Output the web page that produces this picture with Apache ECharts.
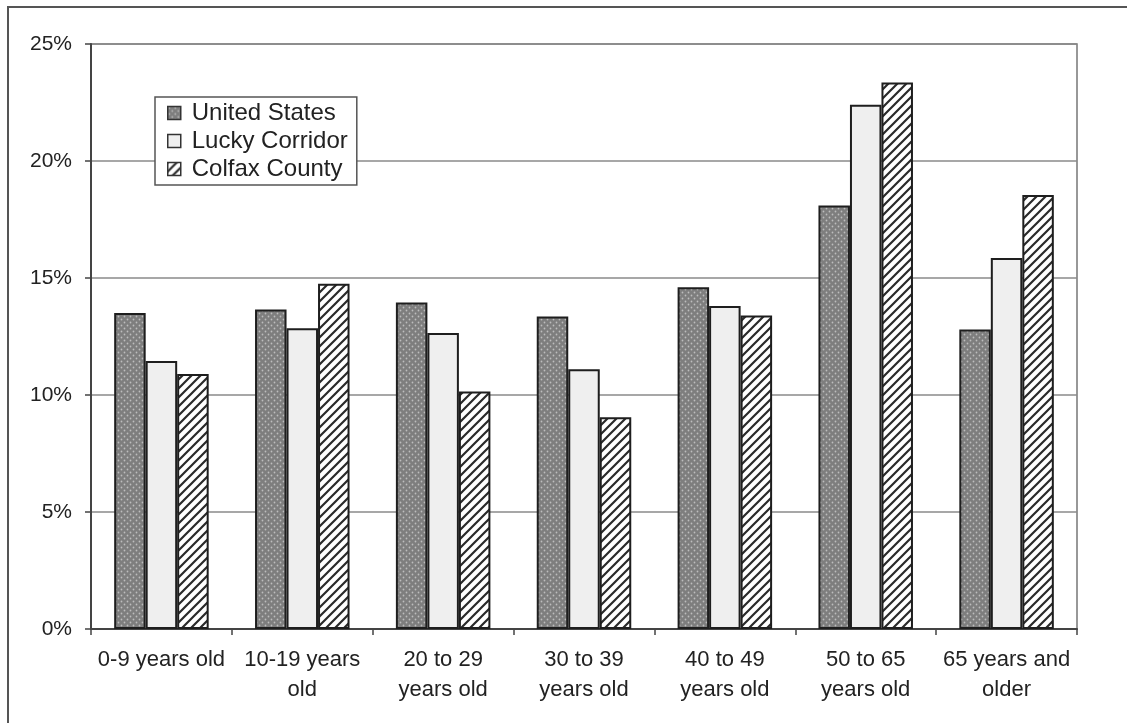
<!DOCTYPE html>
<html>
<head>
<meta charset="utf-8">
<script src="https://cdn.jsdelivr.net/npm/echarts@6/dist/echarts.min.js"></script>
<style>
  html, body { margin: 0; padding: 0; background: #ffffff; }
  #chart { width: 1127px; height: 723px; }
</style>
</head>
<body>
<div id="chart"></div>
<script>
// Age groups along the x axis
const categories = [
  '0-9 years old',
  '10-19 years\nold',
  '20 to 29\nyears old',
  '30 to 39\nyears old',
  '40 to 49\nyears old',
  '50 to 65\nyears old',
  '65 years and\nolder'
];

// Share of population in each age group (percent)
const unitedStates  = [13.5, 13.65, 13.95, 13.35, 14.6, 18.1, 12.8];
const luckyCorridor = [11.45, 12.85, 12.65, 11.1, 13.8, 22.4, 15.85];
const colfaxCounty  = [10.9, 14.75, 10.15, 9.05, 13.4, 23.35, 18.55];

const seriesNames = ['United States', 'Lucky Corridor', 'Colfax County'];

// Value axis ticks
const yMin = 0, yMax = 25, yStep = 5;

// Fill patterns ---------------------------------------------------------
function dottedTile() {
  const c = document.createElement('canvas');
  c.width = 6; c.height = 6;
  const g = c.getContext('2d');
  g.fillStyle = '#7e7e7e';
  g.fillRect(0, 0, 6, 6);
  g.fillStyle = '#bdbdbd';
  g.beginPath(); g.arc(1.5, 1.5, 0.9, 0, Math.PI * 2); g.fill();
  g.beginPath(); g.arc(4.5, 4.5, 0.9, 0, Math.PI * 2); g.fill();
  return c;
}
function plainTile() {
  const c = document.createElement('canvas');
  c.width = 4; c.height = 4;
  const g = c.getContext('2d');
  g.fillStyle = '#efefef';
  g.fillRect(0, 0, 4, 4);
  return c;
}
function hatchTile() {
  const s = 9;
  const c = document.createElement('canvas');
  c.width = s; c.height = s;
  const g = c.getContext('2d');
  g.fillStyle = '#ffffff';
  g.fillRect(0, 0, s, s);
  g.strokeStyle = '#2a2a2a';
  g.lineWidth = 2.2;
  g.beginPath();
  g.moveTo(-1, s + 1); g.lineTo(s + 1, -1);
  g.moveTo(-2, 2); g.lineTo(2, -2);
  g.moveTo(s - 2, s + 2); g.lineTo(s + 2, s - 2);
  g.stroke();
  return c;
}

const fills = [
  { image: dottedTile(), repeat: 'repeat' },
  { image: plainTile(), repeat: 'repeat' },
  { image: hatchTile(), repeat: 'repeat' }
];
const values = [unitedStates, luckyCorridor, colfaxCounty];

const textColor = '#222222';
const font = 'Arial, "Liberation Sans", sans-serif';

const chart = echarts.init(document.getElementById('chart'), null, { renderer: 'canvas' });

chart.setOption({
  backgroundColor: '#ffffff',
  animation: false,
  graphic: [
    {
      type: 'rect',
      shape: { x: 8, y: 7, width: 1300, height: 900 },
      style: { fill: 'none', stroke: '#555555', lineWidth: 2 },
      z: -1
    }
  ],
  grid: {
    left: 91, right: 50, top: 44, bottom: 94,
    show: true,
    borderColor: '#777777',
    borderWidth: 1.5
  },
  legend: {
    orient: 'vertical',
    left: 155,
    top: 97,
    padding: [4, 9, 4, 12],
    itemGap: 4,
    itemWidth: 13,
    itemHeight: 13,
    icon: 'rect',
    backgroundColor: '#ffffff',
    borderColor: '#555555',
    borderWidth: 1.5,
    itemStyle: { borderColor: '#333333', borderWidth: 1.5 },
    textStyle: {
      fontFamily: font,
      fontSize: 24,
      color: textColor,
      padding: [0, 0, 0, 6]
    },
    data: seriesNames
  },
  xAxis: {
    type: 'category',
    data: categories,
    axisLine: { lineStyle: { color: '#444444', width: 2 } },
    axisTick: { show: true, length: 6, lineStyle: { color: '#444444', width: 1.5 } },
    axisLabel: {
      fontFamily: font,
      fontSize: 22,
      color: textColor,
      lineHeight: 30,
      margin: 16,
      interval: 0
    },
    splitLine: { show: false }
  },
  yAxis: {
    type: 'value',
    min: yMin,
    max: yMax,
    interval: yStep,
    axisLine: { show: true, lineStyle: { color: '#444444', width: 2 } },
    axisTick: { show: true, length: 6, lineStyle: { color: '#444444', width: 1.5 } },
    axisLabel: {
      fontFamily: font,
      fontSize: 21,
      color: textColor,
      margin: 19,
      formatter: '{value}%'
    },
    splitLine: { show: true, lineStyle: { color: '#8a8a8a', width: 1.5 } }
  },
  series: seriesNames.map((name, i) => ({
    name: name,
    type: 'bar',
    data: values[i],
    barWidth: 31.5,
    barGap: '0%',
    itemStyle: {
      color: fills[i],
      borderColor: '#1e1e1e',
      borderWidth: 2
    },
    emphasis: { disabled: true }
  }))
});
</script>
</body>
</html>
